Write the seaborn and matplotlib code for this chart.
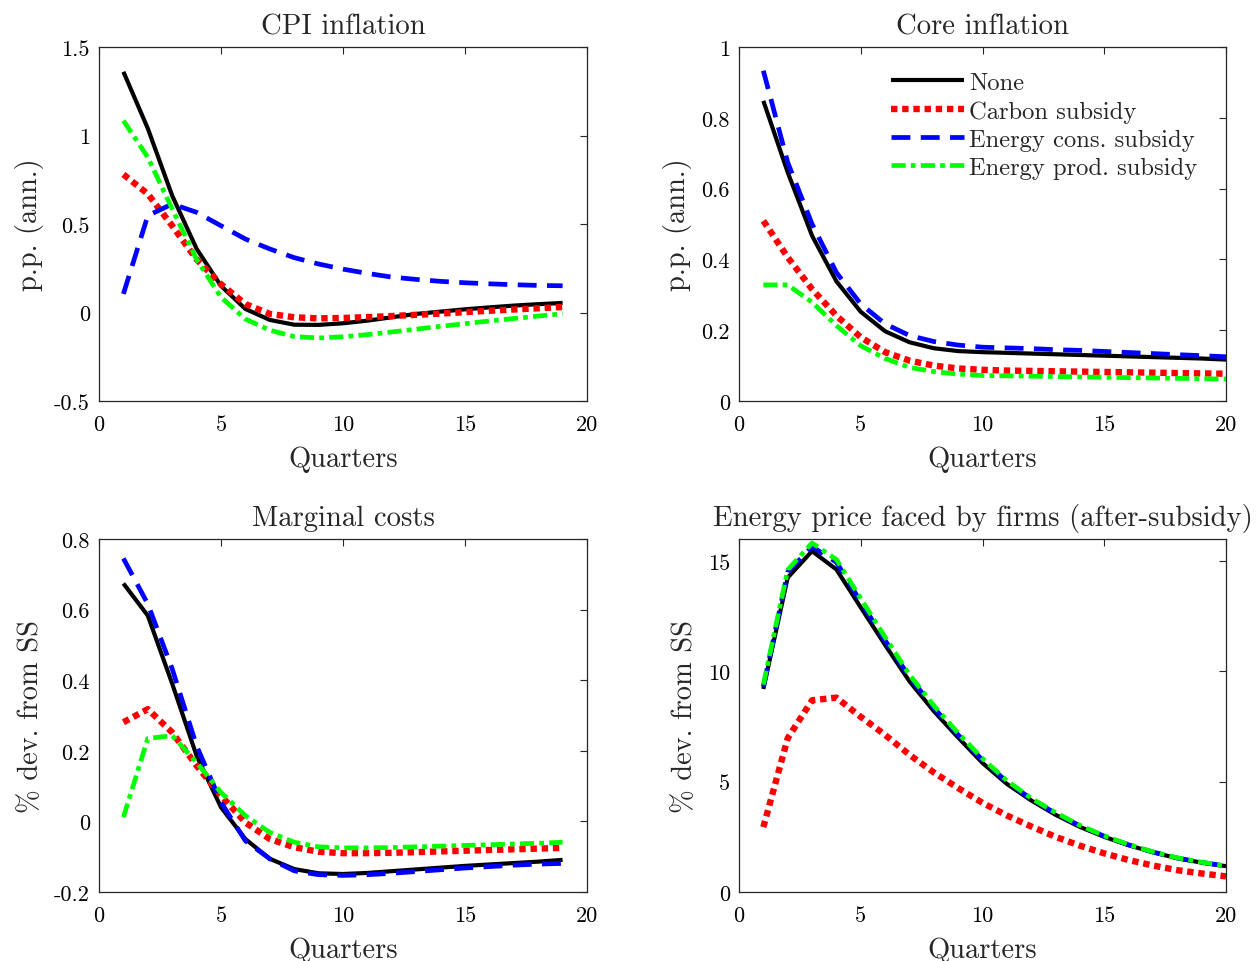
import numpy as np
import pandas as pd
import matplotlib
matplotlib.use("Agg")
import matplotlib.pyplot as plt
import seaborn as sns

# ---------------- data ----------------
quarters_a = list(range(1, 20))   # left panels
quarters_b = list(range(1, 21))   # right panels

series_names = ["None", "Carbon subsidy", "Energy cons. subsidy", "Energy prod. subsidy"]

cpi_none = [1.36, 1.04, 0.66, 0.36, 0.15, 0.02, -0.042, -0.069, -0.07, -0.061,
            -0.046, -0.027, -0.008, 0.005, 0.018, 0.029, 0.039, 0.047, 0.054]
cpi_carbon = [0.78, 0.67, 0.49, 0.30, 0.16, 0.048, -0.008, -0.027, -0.033, -0.031,
              -0.026, -0.02, -0.013, -0.006, 0.002, 0.01, 0.017, 0.024, 0.031]
cpi_cons = [0.105, 0.547, 0.613, 0.566, 0.49, 0.415, 0.359, 0.31, 0.274, 0.245,
            0.221, 0.20, 0.187, 0.176, 0.168, 0.162, 0.157, 0.153, 0.151]
cpi_prod = [1.084, 0.877, 0.585, 0.30, 0.086, -0.037, -0.10, -0.136, -0.144, -0.137,
            -0.125, -0.11, -0.094, -0.078, -0.063, -0.048, -0.034, -0.02, -0.007]

core_none = [0.848, 0.646, 0.467, 0.338, 0.252, 0.197, 0.166, 0.149, 0.141, 0.138,
             0.136, 0.134, 0.132, 0.130, 0.128, 0.126, 0.124, 0.122, 0.120, 0.117]
core_carbon = [0.509, 0.406, 0.316, 0.241, 0.18, 0.138, 0.114, 0.10, 0.092, 0.088,
               0.086, 0.085, 0.084, 0.083, 0.082, 0.081, 0.080, 0.079, 0.078, 0.077]
core_cons = [0.933, 0.674, 0.50, 0.363, 0.274, 0.218, 0.185, 0.168, 0.158, 0.152,
             0.150, 0.148, 0.145, 0.143, 0.140, 0.137, 0.134, 0.131, 0.128, 0.125]
core_prod = [0.328, 0.328, 0.279, 0.213, 0.156, 0.12, 0.095, 0.083, 0.076, 0.072,
             0.071, 0.070, 0.069, 0.068, 0.067, 0.066, 0.065, 0.064, 0.063, 0.062]

mc_none = [0.674, 0.583, 0.39, 0.186, 0.04, -0.05, -0.106, -0.135, -0.147,
           -0.149, -0.146, -0.141, -0.136, -0.131, -0.126, -0.122, -0.118, -0.114, -0.109]
mc_carbon = [0.281, 0.318, 0.252, 0.158, 0.073, -0.003, -0.05, -0.073, -0.086,
             -0.09, -0.09, -0.089, -0.087, -0.085, -0.083, -0.081, -0.079, -0.077, -0.075]
mc_cons = [0.745, 0.616, 0.432, 0.214, 0.054, -0.055, -0.106, -0.14, -0.151,
           -0.153, -0.151, -0.147, -0.142, -0.137, -0.132, -0.128, -0.124, -0.121, -0.119]
mc_prod = [0.012, 0.235, 0.243, 0.167, 0.082, 0.016, -0.031, -0.059, -0.072,
           -0.075, -0.075, -0.074, -0.072, -0.070, -0.068, -0.066, -0.064, -0.062, -0.059]

en_none = [9.2, 14.25, 15.45, 14.62, 12.9, 11.2, 9.55, 8.2, 7.0, 5.85,
           4.9, 4.15, 3.5, 2.95, 2.5, 2.12, 1.8, 1.53, 1.33, 1.17]
en_carbon = [2.94, 6.97, 8.69, 8.81, 7.94, 7.12, 6.22, 5.42, 4.71, 4.04,
             3.47, 2.97, 2.5, 2.1, 1.75, 1.45, 1.2, 0.99, 0.84, 0.71]
en_cons = [9.3, 14.5, 15.65, 14.95, 13.15, 11.4, 9.75, 8.35, 7.12, 5.98,
           5.0, 4.22, 3.56, 3.0, 2.53, 2.14, 1.81, 1.54, 1.34, 1.18]
en_prod = [9.4, 14.6, 15.82, 15.07, 13.3, 11.55, 9.85, 8.45, 7.2, 6.05,
           5.05, 4.25, 3.6, 3.02, 2.55, 2.15, 1.82, 1.55, 1.35, 1.18]

titles = ["CPI inflation", "Core inflation", "Marginal costs",
          "Energy price faced by firms (after-subsidy)"]
ylabels = ["p.p. (ann.)", "p.p. (ann.)", "% dev. from SS", "% dev. from SS"]
xlabel = "Quarters"
xticks = [0, 5, 10, 15, 20]
yticks_cpi = [-0.5, 0, 0.5, 1, 1.5]
yticklabels_cpi = ["-0.5", "0", "0.5", "1", "1.5"]
yticks_core = [0, 0.2, 0.4, 0.6, 0.8, 1]
yticklabels_core = ["0", "0.2", "0.4", "0.6", "0.8", "1"]
yticks_mc = [-0.2, 0, 0.2, 0.4, 0.6, 0.8]
yticklabels_mc = ["-0.2", "0", "0.2", "0.4", "0.6", "0.8"]
yticks_en = [0, 5, 10, 15]
yticklabels_en = ["0", "5", "10", "15"]

# ---------------- style ----------------
sns.set_style("white")
plt.rcParams["font.family"] = ["cmr10", "DejaVu Serif"]
plt.rcParams["mathtext.fontset"] = "cm"
plt.rcParams["axes.unicode_minus"] = False
plt.rcParams["axes.formatter.use_mathtext"] = False

AX_COLOR = "#262626"
styles = {
    "None": dict(color="#000000", lw=3.0, ls="-"),
    "Carbon subsidy": dict(color="#ff0000", lw=4.6, ls=(0, (1.0, 0.75))),
    "Energy cons. subsidy": dict(color="#0000ff", lw=3.4, ls=(0, (4.0, 2.2))),
    "Energy prod. subsidy": dict(color="#00ff00", lw=3.4, ls=(0, (3.0, 1.1, 1.0, 1.1))),
}

W, H = 1256, 962
fig = plt.figure(figsize=(W / 100, H / 100), dpi=100)

def frac(l, r, t, b):
    return [l / W, 1 - b / H, (r - l) / W, (b - t) / H]

positions = [frac(99, 587, 48, 402), frac(739, 1226, 48, 402),
             frac(99, 587, 540, 893), frac(739, 1226, 540, 893)]

panels = [
    (quarters_a, [cpi_none, cpi_carbon, cpi_cons, cpi_prod], (-0.5, 1.5), yticks_cpi, yticklabels_cpi),
    (quarters_b, [core_none, core_carbon, core_cons, core_prod], (0, 1), yticks_core, yticklabels_core),
    (quarters_a, [mc_none, mc_carbon, mc_cons, mc_prod], (-0.2, 0.8), yticks_mc, yticklabels_mc),
    (quarters_b, [en_none, en_carbon, en_cons, en_prod], (0, 16), yticks_en, yticklabels_en),
]

axes = []
for i, (pos, (xs, ys, ylim, yt, ytl)) in enumerate(zip(positions, panels)):
    ax = fig.add_axes(pos)
    axes.append(ax)
    for name, vals in zip(series_names, ys):
        df = pd.DataFrame({"q": xs, "v": vals})
        st = styles[name]
        sns.lineplot(data=df, x="q", y="v", ax=ax, color=st["color"], linewidth=st["lw"],
                     linestyle=st["ls"], label=name if i == 1 else None,
                     dash_capstyle="butt", solid_capstyle="butt", legend=False)
    ax.set_xlim(0, 20)
    ax.set_ylim(*ylim)
    ax.set_xticks(xticks)
    ax.set_xticklabels([str(t) for t in xticks])
    ax.set_yticks(yt)
    ax.set_yticklabels(ytl)
    ax.tick_params(direction="in", length=5, width=0.8, color=AX_COLOR,
                   labelsize=16, labelcolor="#000000", top=True, right=True)
    ax.tick_params(axis="x", pad=10)
    ax.tick_params(axis="y", pad=6.5)
    for sp in ax.spines.values():
        sp.set_color(AX_COLOR)
        sp.set_linewidth(0.9)
        sp.set_visible(True)
    ax.set_xlabel(xlabel, fontsize=20.5, labelpad=8)
    ax.set_ylabel(ylabels[i], fontsize=20.5, labelpad=7)
    ax.set_title(titles[i], fontsize=20.7, pad=10)

leg_handles, leg_labels = axes[1].get_legend_handles_labels()
axes[1].legend(leg_handles, leg_labels, loc="upper left", bbox_to_anchor=(0.313, 0.93),
               frameon=False, fontsize=17.7, handlelength=2.95, handletextpad=0.22,
               labelspacing=0.245, borderaxespad=0, borderpad=0)

fig.savefig("out.png", dpi=100)
